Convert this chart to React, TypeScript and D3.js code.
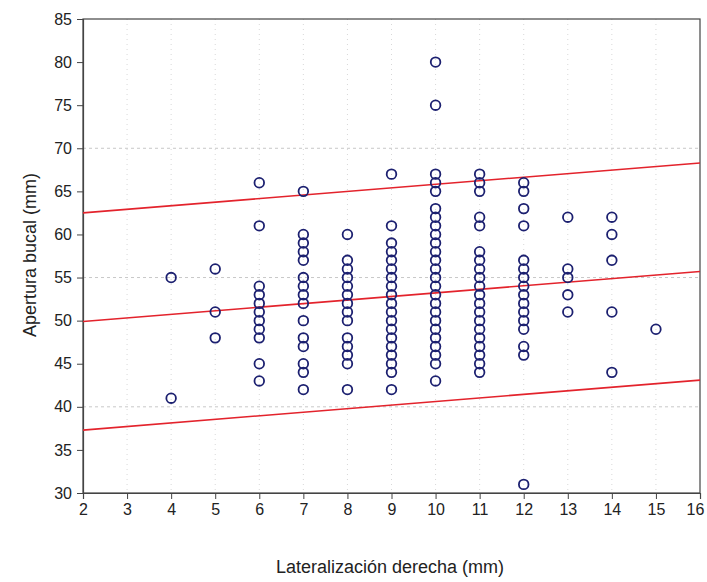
import React, { useRef, useEffect } from 'react';
import * as d3 from 'd3';

// apertura bucal (mm) readings, one array per lateralizacion value
const lat4 = [55, 41];
const lat5 = [56, 51, 48];
const lat6 = [66, 61, 54, 53, 52, 51, 50, 49, 48, 45, 43];
const lat7 = [65, 60, 59, 58, 57, 55, 54, 53, 52, 50, 48, 47, 45, 44, 42];
const lat8 = [60, 57, 56, 55, 54, 53, 52, 51, 50, 48, 47, 46, 45, 42];
const lat9 = [67, 61, 59, 58, 57, 56, 55, 54, 53, 52, 51, 50, 49, 48, 47, 46, 45, 44, 42];
const lat10 = [80, 75, 67, 66, 65, 63, 62, 61, 60, 59, 58, 57, 56, 55, 54, 53, 52, 51, 50, 49, 48, 47, 46, 45, 43];
const lat11 = [67, 66, 65, 62, 61, 58, 57, 56, 55, 54, 53, 52, 51, 50, 49, 48, 47, 46, 45, 44];
const lat12 = [66, 65, 63, 61, 57, 56, 55, 54, 53, 52, 51, 50, 49, 47, 46, 31];
const lat13 = [62, 56, 55, 53, 51];
const lat14 = [62, 60, 57, 51, 44];
const lat15 = [49];

const columns: [number, number[]][] = [
    [4, lat4], [5, lat5], [6, lat6], [7, lat7], [8, lat8], [9, lat9], [10, lat10],
    [11, lat11], [12, lat12], [13, lat13], [14, lat14], [15, lat15]
];

// fit line and bounds, value at x = 2 and x = 16
const lineEnds = [2, 16];
const upperBound = [62.5, 68.3];
const fitLine = [49.9, 55.7];
const lowerBound = [37.3, 43.1];

const xTicks = d3.range(2, 17, 1);
const yTicks = d3.range(30, 86, 5);
const yGrid = [40, 55, 70];

const App = () => {
    const ref = useRef<SVGSVGElement>(null);

    useEffect(() => {
        if (!ref.current) return;
        const svg = d3.select(ref.current);
        svg.selectAll('*').remove();

        const left = 83, right = 700, top = 19, bottom = 493;
        const x = d3.scaleLinear().domain([2, 16]).range([left, right]);
        const y = d3.scaleLinear().domain([30, 85]).range([bottom, top]);

        const font = 'Liberation Sans, Arial, sans-serif';

        // grid
        svg.append('g').selectAll('line')
            .data(xTicks.slice(1, -1))
            .enter().append('line')
            .attr('x1', d => x(d)).attr('x2', d => x(d))
            .attr('y1', top).attr('y2', bottom)
            .style('stroke', '#d8d8d8')
            .style('stroke-width', 1)
            .style('stroke-dasharray', '1,4');

        svg.append('g').selectAll('line')
            .data(yGrid)
            .enter().append('line')
            .attr('x1', left).attr('x2', right)
            .attr('y1', d => y(d)).attr('y2', d => y(d))
            .style('stroke', '#c8c8c8')
            .style('stroke-width', 1)
            .style('stroke-dasharray', '3,3');

        // frame
        svg.append('rect')
            .attr('x', left).attr('y', top)
            .attr('width', right - left).attr('height', bottom - top)
            .style('fill', 'none')
            .style('stroke', '#444')
            .style('stroke-width', 1.2);

        const xAxis = svg.append('g')
            .attr('transform', 'translate(0,' + bottom + ')')
            .call(d3.axisBottom(x).tickValues(xTicks).tickSize(6).tickPadding(5).tickFormat(d3.format('d')));
        const yAxis = svg.append('g')
            .attr('transform', 'translate(' + left + ',0)')
            .call(d3.axisLeft(y).tickValues(yTicks).tickSize(6).tickPadding(5).tickFormat(d3.format('d')));

        [xAxis, yAxis].forEach(a => {
            a.select('.domain').style('stroke', '#444').style('stroke-width', 1.2);
            a.selectAll('line').style('stroke', '#444');
            a.selectAll('text')
                .style('font-family', font)
                .style('font-size', '16px')
                .style('fill', '#222');
        });
        // last x label sits against the page edge
        xAxis.selectAll<SVGTextElement, number>('text')
            .filter(d => d === 16)
            .attr('dx', -5);

        // red lines
        const line = d3.line<[number, number]>()
            .x(d => x(d[0]))
            .y(d => y(d[1]));
        [upperBound, fitLine, lowerBound].forEach(vals => {
            svg.append('path')
                .datum(lineEnds.map((e, i) => [e, vals[i]] as [number, number]))
                .attr('d', line)
                .style('fill', 'none')
                .style('stroke', '#e3232c')
                .style('stroke-width', 1.6);
        });

        // points
        const points = columns.flatMap(([lx, vals]) => vals.map(v => ({ lx, v })));
        svg.append('g').selectAll('circle')
            .data(points)
            .enter().append('circle')
            .attr('cx', d => x(d.lx))
            .attr('cy', d => y(d.v))
            .attr('r', 4.8)
            .style('fill', 'none')
            .style('stroke', '#1c2070')
            .style('stroke-width', 1.8);

        // titles
        svg.append('text')
            .attr('transform', 'rotate(-90)')
            .attr('x', -255)
            .attr('y', 36)
            .style('text-anchor', 'middle')
            .style('font-family', font)
            .style('font-size', '18px')
            .style('fill', '#222')
            .text('Apertura bucal (mm)');

        svg.append('text')
            .attr('x', 390)
            .attr('y', 573)
            .style('text-anchor', 'middle')
            .style('font-family', font)
            .style('font-size', '18px')
            .style('fill', '#222')
            .text('Lateralización derecha (mm)');
    }, []);

    return (
        <svg ref={ref} width={707} height={582}
            style={{ position: 'absolute', left: 0, top: 0, background: '#fff' }} />
    );
};

export default App;
